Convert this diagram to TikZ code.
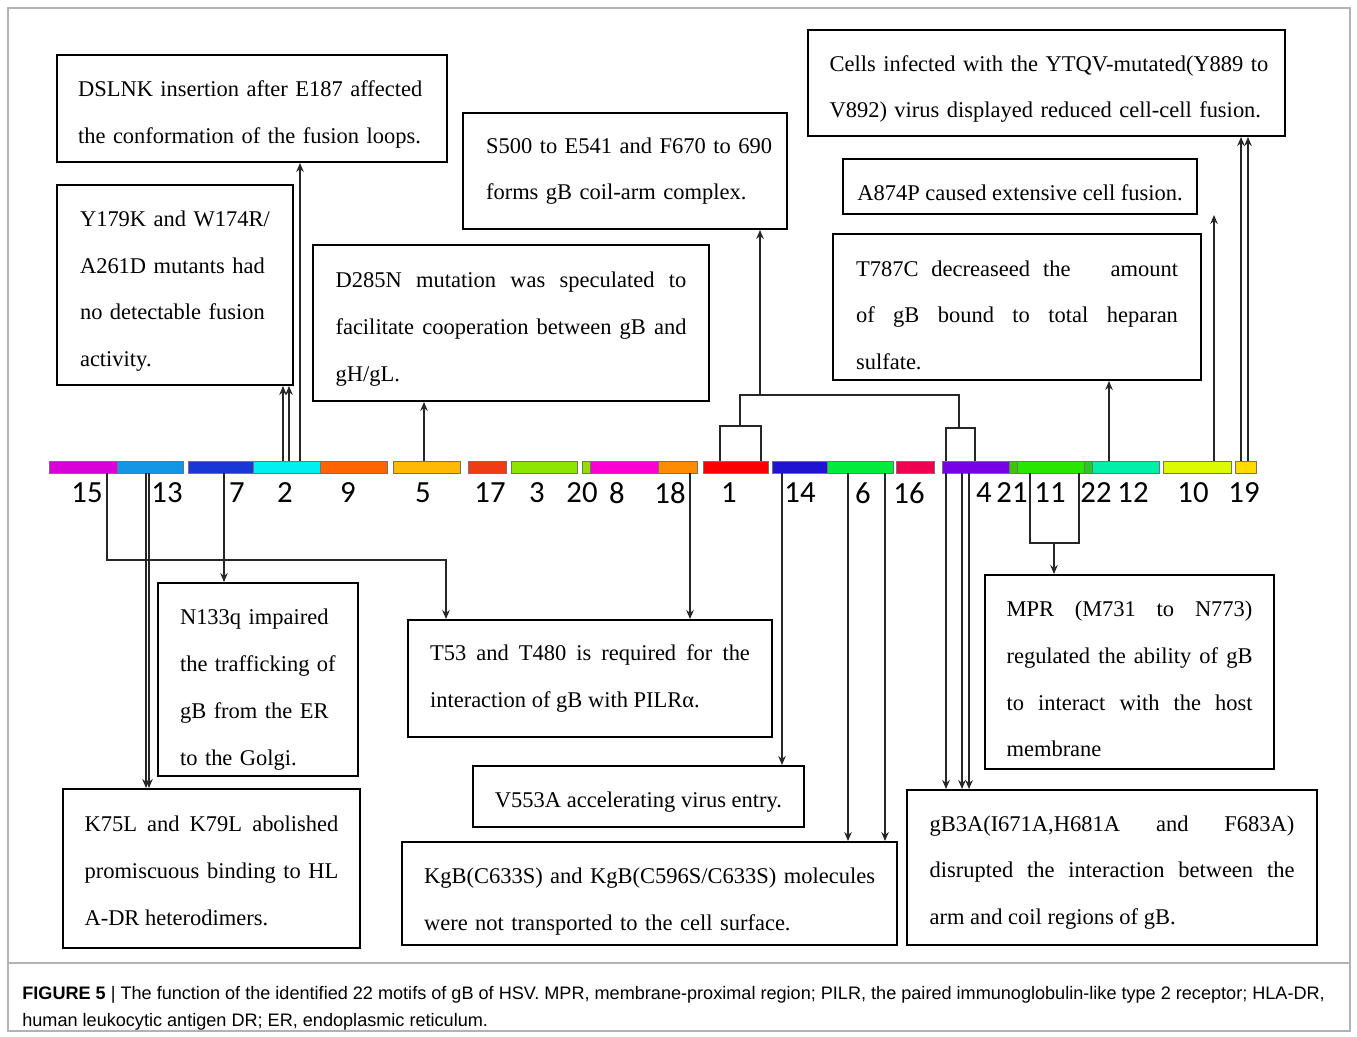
\documentclass[tikz,border=0pt]{standalone}
\usepackage{fontspec}
\setmainfont{Liberation Serif}
\newfontfamily\numfont{Carlito}
\newfontfamily\capfont{Liberation Sans}
\usetikzlibrary{arrows.meta}

% motif colours
\definecolor{m15}{RGB}{218,0,218}
\definecolor{m13}{RGB}{20,150,230}
\definecolor{m7}{RGB}{25,55,215}
\definecolor{m2}{RGB}{0,240,240}
\definecolor{m9}{RGB}{255,100,0}
\definecolor{m5}{RGB}{255,185,0}
\definecolor{m17}{RGB}{240,60,20}
\definecolor{m3}{RGB}{140,230,0}
\definecolor{m20}{RGB}{150,220,0}
\definecolor{m8}{RGB}{250,0,210}
\definecolor{m18}{RGB}{255,140,0}
\definecolor{m1}{RGB}{250,0,0}
\definecolor{m14}{RGB}{30,20,210}
\definecolor{m6}{RGB}{0,235,60}
\definecolor{m16}{RGB}{240,0,80}
\definecolor{m4}{RGB}{120,0,230}
\definecolor{m21}{RGB}{60,200,0}
\definecolor{m11}{RGB}{40,230,0}
\definecolor{m22}{RGB}{40,200,30}
\definecolor{m12}{RGB}{0,240,170}
\definecolor{m10}{RGB}{220,250,0}
\definecolor{m19}{RGB}{255,220,0}

\tolerance=10000
\hbadness=10000

\tikzset{
  motif/.style={draw=black!55, line width=0.4pt, minimum height=0.24cm, inner sep=0pt, anchor=west},
  motifnum/.style={font=\numfont\fontsize{17.5}{20}\selectfont, inner sep=0pt},
  note/.style={draw, line width=1.1pt, align=left, inner sep=0pt, font=\fontsize{12.8}{26.6}\selectfont},
  lift/.style={execute at begin node={\rule{0pt}{#1}}},
  link/.style={black!85, line width=0.9pt},
  arr/.style={link, -{Stealth[length=1.8mm,width=1.5mm]}},
}

\begin{document}
\begin{tikzpicture}[x=0.02cm,y=-0.02cm]
\useasboundingbox (0,0) rectangle (1357,1037);
\draw[gray!60, line width=0.6pt] (8,8) rectangle (1350,1031);
\draw[gray!60, line width=0.6pt] (8,963) -- (1350,963);
%
% motif bar
\node[motif, fill=m15, minimum width=1.36cm] (s15) at (49,467) {};
\node[motif, fill=m13, minimum width=1.32cm] (s13) at (117,467) {};
\node[motif, fill=m7, minimum width=1.30cm] (s7) at (188,467) {};
\node[motif, fill=m2, minimum width=1.34cm] (s2) at (253,467) {};
\node[motif, fill=m9, minimum width=1.34cm] (s9) at (320,467) {};
\node[motif, fill=m5, minimum width=1.34cm] (s5) at (393,467) {};
\node[motif, fill=m17, minimum width=0.76cm] (s17) at (468,467) {};
\node[motif, fill=m3, minimum width=1.32cm] (s3) at (511,467) {};
\node[motif, fill=m20, minimum width=0.16cm] (s20) at (582,467) {};
\node[motif, fill=m8, minimum width=1.36cm] (s8) at (590,467) {};
\node[motif, fill=m18, minimum width=0.78cm] (s18) at (658,467) {};
\node[motif, fill=m1, minimum width=1.30cm] (s1) at (703,467) {};
\node[motif, fill=m14, minimum width=1.10cm] (s14) at (772,467) {};
\node[motif, fill=m6, minimum width=1.32cm] (s6) at (827,467) {};
\node[motif, fill=m16, minimum width=0.76cm] (s16) at (896,467) {};
\node[motif, fill=m4, minimum width=1.34cm] (s4) at (942,467) {};
\node[motif, fill=m21, minimum width=0.16cm] (s21) at (1009,467) {};
\node[motif, fill=m11, minimum width=1.34cm] (s11) at (1017,467) {};
\node[motif, fill=m22, minimum width=0.16cm] (s22) at (1084,467) {};
\node[motif, fill=m12, minimum width=1.34cm] (s12) at (1092,467) {};
\node[motif, fill=m10, minimum width=1.36cm] (s10) at (1163,467) {};
\node[motif, fill=m19, minimum width=0.42cm] (s19) at (1235,467) {};
%
\node[motifnum] (n15) at (87,493) {15};
\node[motifnum] (n13) at (167,493) {13};
\node[motifnum] (n7) at (237,493) {7};
\node[motifnum] (n2) at (285,493) {2};
\node[motifnum] (n9) at (348,493) {9};
\node[motifnum] (n5) at (423,493) {5};
\node[motifnum] (n17) at (490,493) {17};
\node[motifnum] (n3) at (537,493) {3};
\node[motifnum] (n20) at (582,493) {20};
\node[motifnum] (n8) at (617,493) {8};
\node[motifnum] (n18) at (670,493) {18};
\node[motifnum] (n1) at (729,493) {1};
\node[motifnum] (n14) at (800,493) {14};
\node[motifnum] (n6) at (863,493) {6};
\node[motifnum] (n16) at (909,493) {16};
\node[motifnum] (n4) at (984,493) {4};
\node[motifnum] (n21) at (1012,493) {21};
\node[motifnum] (n11) at (1050,493) {11};
\node[motifnum] (n22) at (1096,493) {22};
\node[motifnum] (n12) at (1133,493) {12};
\node[motifnum] (n10) at (1193,493) {10};
\node[motifnum] (n19) at (1244,493) {19};
%
% notes above the bar
\node[note, lift=0.557cm, text width=6.96cm, minimum width=7.8cm, minimum height=2.14cm] (dslnk) at (252,108.5)
  {DSLNK insertion after E187 affected\\the conformation of the fusion loops.};
\node[note, lift=0.557cm, text width=3.8cm, minimum width=4.72cm, minimum height=4.0cm] (y179k) at (175,285)
  {Y179K and W174R/\\A261D mutants had\\no detectable fusion\\activity.};
\node[note, lift=0.557cm, align=justify, text width=7.02cm, minimum width=7.92cm, minimum height=3.12cm] (d285n) at (511,323)
  {D285N mutation was speculated to\linebreak facilitate cooperation between gB and\linebreak gH/gL.};
\node[note, text width=5.56cm, minimum width=6.48cm, minimum height=2.32cm] (s500) at (625,171)
  {\mbox{S500 to E541 and F670 to 690}\\forms gB coil-arm complex.};
\node[note, lift=0.557cm, text width=8.68cm, minimum width=9.54cm, minimum height=2.12cm] (cells) at (1046.5,83)
  {\mbox{Cells infected with the YTQV-mutated(Y889 to}\\\mbox{V892) virus displayed reduced cell-cell fusion.}};
\node[note, lift=0.557cm, minimum width=7.08cm, minimum height=1.1cm] (a874p) at (1020,186.5)
  {A874P caused extensive cell fusion.};
\node[note, lift=0.637cm, align=justify, text width=6.44cm, minimum width=7.36cm, minimum height=2.92cm] (t787c) at (1017,307)
  {T787C decreaseed the\hspace{1.2em} amount\linebreak of gB bound to total heparan\linebreak sulfate.};
%
% notes below the bar
\node[note, lift=0.717cm, text width=3.12cm, minimum width=4.0cm, minimum height=3.86cm] (n133q) at (258,679.5)
  {N133q impaired\\the trafficking of\\gB from the ER\\to the Golgi.};
\node[note, align=justify, text width=6.4cm, minimum width=7.28cm, minimum height=2.34cm] (t53) at (590,678.5)
  {T53 and T480 is required for the\linebreak interaction of gB with PILRα.};
\node[note, lift=0.557cm, minimum width=6.62cm, minimum height=1.22cm] (v553a) at (638.5,796.5)
  {V553A accelerating virus entry.};
\node[note, lift=0.397cm, align=justify, text width=5.08cm, minimum width=5.94cm, minimum height=3.18cm] (k75l) at (211.5,868.5)
  {K75L and K79L abolished\linebreak promiscuous binding to HL\linebreak A-DR heterodimers.};
\node[note, lift=0.637cm, text width=9.02cm, minimum width=9.9cm, minimum height=2.06cm] (kgb) at (649.5,893.5)
  {\mbox{KgB(C633S) and KgB(C596S/C633S) molecules}\\\mbox{were not transported to the cell surface.}};
\node[note, lift=0.597cm, align=justify, text width=4.92cm, minimum width=5.78cm, minimum height=3.88cm] (mpr) at (1129.5,672)
  {MPR (M731 to N773)\linebreak regulated the ability of gB\linebreak to interact with the host\linebreak membrane};
\node[note, lift=0.517cm, align=justify, text width=7.3cm, minimum width=8.2cm, minimum height=3.1cm] (gb3a) at (1112,867.5)
  {gB3A(I671A,H681A \hspace{1em} and \hspace{1em} F683A)\linebreak disrupted the interaction between the\linebreak arm and coil regions of gB.};
%
% roots of the connectors on the bar
\coordinate (p2a) at (283,461);
\coordinate (p2b) at (289,461);
\coordinate (p2c) at (300,461);
\coordinate (p5) at (424,461);
\coordinate (p12) at (1109,461);
\coordinate (p10) at (1214,461);
\coordinate (p19a) at (1241,461);
\coordinate (p19b) at (1248,461);
\coordinate (p15) at (107,473);
\coordinate (p13a) at (146,473);
\coordinate (p13b) at (149,473);
\coordinate (p7) at (224,473);
\coordinate (p18) at (690,473);
\coordinate (p14) at (782,473);
\coordinate (p6a) at (848,473);
\coordinate (p6b) at (885,473);
\coordinate (p4a) at (946,473);
\coordinate (p4b) at (962,473);
\coordinate (p4c) at (969,473);
\coordinate (c15) at (446,560);
\coordinate (j1) at (760,395);
\coordinate (j2) at (1054,543);
%
\draw[arr] (p2a) -- (p2a |- y179k.south);
\draw[arr] (p2b) -- (p2b |- y179k.south);
\draw[arr] (p2c) -- (p2c |- dslnk.south);
\draw[arr] (p5) -- (p5 |- d285n.south);
\draw[arr] (p12) -- (p12 |- t787c.south);
\draw[arr] (p10) -- (p10 |- a874p.south);
\draw[arr] (p19a) -- (p19a |- cells.south);
\draw[arr] (p19b) -- (p19b |- cells.south);
% bracket over motifs 1 and 4
\draw[link] (720,461) |- (761,426) -- (761,461);
\draw[link] (946,461) |- (975,428) -- (975,461);
\draw[link] (740,426) |- (959,395) -- (959,428);
\draw[arr] (j1) -- (j1 |- s500.south);
%
\draw[arr] (p15) |- (c15) -- (c15 |- t53.north);
\draw[arr] (p13a) -- (p13a |- k75l.north);
\draw[arr] (p13b) -- (p13b |- k75l.north);
\draw[arr] (p7) -- (p7 |- n133q.north);
\draw[arr] (p18) -- (p18 |- t53.north);
\draw[arr] (p14) -- (p14 |- v553a.north);
\draw[arr] (p6a) -- (p6a |- kgb.north);
\draw[arr] (p6b) -- (p6b |- kgb.north);
\draw[arr] (p4a) -- (p4a |- gb3a.north);
\draw[arr] (p4b) -- (p4b |- gb3a.north);
\draw[arr] (p4c) -- (p4c |- gb3a.north);
% bracket under motifs 21, 11 and 22
\draw[link] (1030,473) |- (1079,543) -- (1079,473);
\draw[arr] (j2) -- (j2 |- mpr.north);
%
% caption
\node[anchor=west, align=left, inner sep=0pt, font=\capfont\fontsize{10.3}{15.3}\selectfont] (cap) at (22,1008)
  {\textbf{FIGURE 5} | The function of the identified 22 motifs of gB of HSV. MPR, membrane-proximal region; PILR, the paired immunoglobulin-like type 2 receptor; HLA-DR,\\human leukocytic antigen DR; ER, endoplasmic reticulum.};
\end{tikzpicture}
\end{document}
